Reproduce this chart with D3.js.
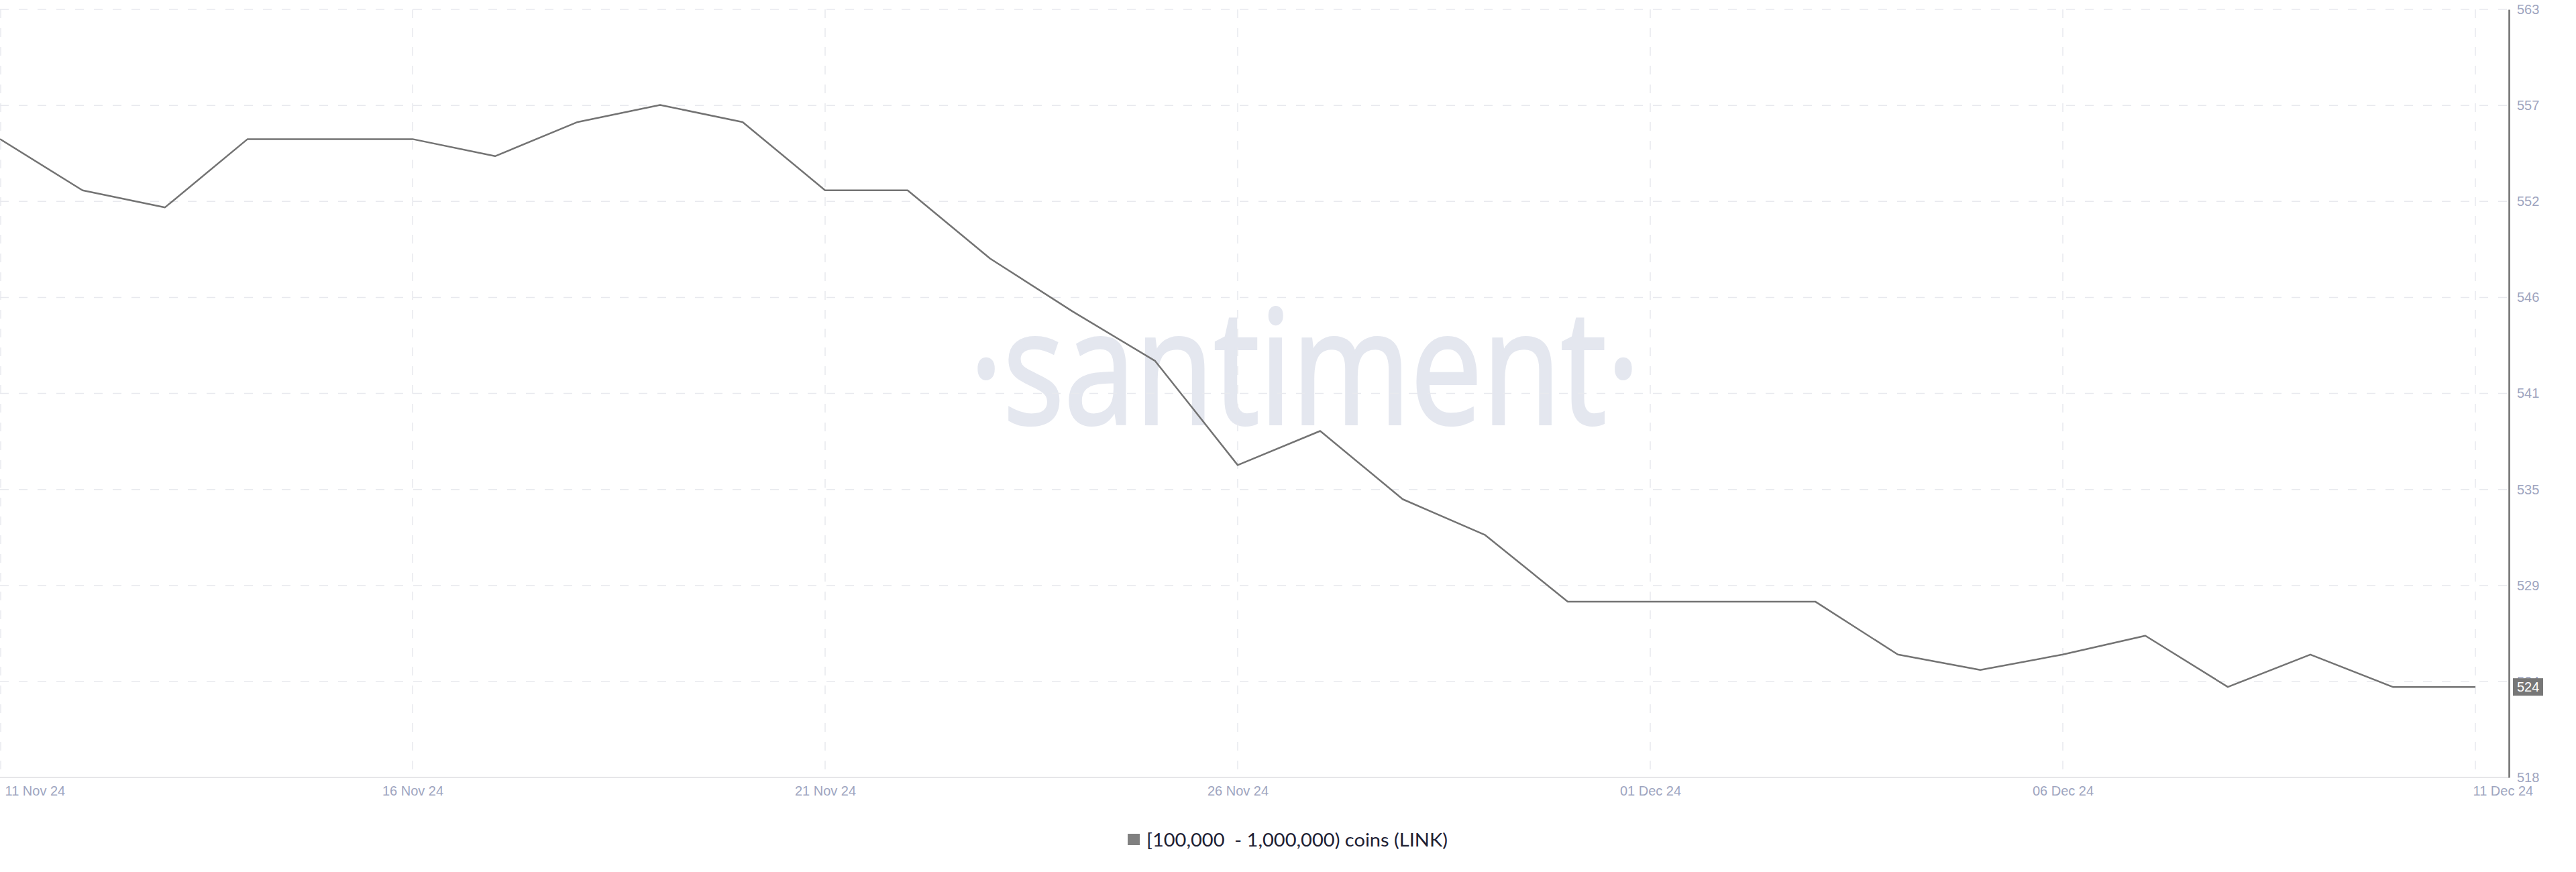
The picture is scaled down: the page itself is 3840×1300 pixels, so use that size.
<!DOCTYPE html>
<html>
<head>
<meta charset="utf-8">
<script src="https://cdn.jsdelivr.net/npm/d3@7"></script>
<style>
  html, body { margin: 0; padding: 0; background: #ffffff; }
  svg { display: block; }
</style>
</head>
<body>
<svg id="chart" width="3840" height="1300"></svg>
<script>
// ---------------- DATA ----------------
const dates = [
  "2024-11-11","2024-11-12","2024-11-13","2024-11-14","2024-11-15","2024-11-16",
  "2024-11-17","2024-11-18","2024-11-19","2024-11-20","2024-11-21","2024-11-22",
  "2024-11-23","2024-11-24","2024-11-25","2024-11-26","2024-11-27","2024-11-28",
  "2024-11-29","2024-11-30","2024-12-01","2024-12-02","2024-12-03","2024-12-04",
  "2024-12-05","2024-12-06","2024-12-07","2024-12-08","2024-12-09","2024-12-10",
  "2024-12-11"
];
const values = [
  555.4, 552.4, 551.4, 555.4, 555.4, 555.4,
  554.4, 556.4, 557.4, 556.4, 552.4, 552.4,
  548.4, 545.3, 542.4, 536.3, 538.3, 534.3,
  532.2, 528.3, 528.3, 528.3, 528.3, 525.2,
  524.3, 525.2, 526.3, 523.3, 525.2, 523.3,
  523.3
];
const seriesName = "[100,000  - 1,000,000) coins (LINK)";
const currentValueLabel = "524";

const xTickDates = ["2024-11-11","2024-11-16","2024-11-21","2024-11-26","2024-12-01","2024-12-06","2024-12-11"];
const xTickLabels = ["11 Nov 24","16 Nov 24","21 Nov 24","26 Nov 24","01 Dec 24","06 Dec 24","11 Dec 24"];

const yDomain = [518, 563];
const yTickLabels = ["518","524","529","535","541","546","552","557","563"];

// ---------------- LAYOUT ----------------
const parse = d3.utcParse("%Y-%m-%d");
const svg = d3.select("#chart");

const plotLeft = 0, dataRight = 3690, axisX = 3740;
const plotTop = 14, plotBottom = 1159;

const x = d3.scaleUtc()
  .domain([parse(dates[0]), parse(dates[dates.length - 1])])
  .range([plotLeft, dataRight]);
const y = d3.scaleLinear().domain(yDomain).range([plotBottom, plotTop]);

const yTickValues = yTickLabels.map((_, i) => yDomain[0] + i * (yDomain[1] - yDomain[0]) / (yTickLabels.length - 1));
const xTickValues = xTickDates.map(parse);

const gridColor = "#e8e9ee";
const labelColor = "#9ea5bf";
const labelFont = "'Liberation Sans', Arial, Helvetica, sans-serif";

// Watermark
svg.append("text")
  .attr("x", 1445)
  .attr("y", 632)
  .attr("textLength", 1000)
  .attr("lengthAdjust", "spacingAndGlyphs")
  .style("font-family", "'Open Sans', sans-serif")
  .style("font-weight", 500)
  .style("font-size", "237px")
  .style("fill", "#e4e7ef")
  .style("stroke", "#e4e7ef")
  .style("stroke-width", 4)
  .text("\u00B7santiment\u00B7");

// Horizontal gridlines
svg.append("g").selectAll("line")
  .data(yTickValues.slice(1))
  .join("line")
  .attr("x1", plotLeft).attr("x2", axisX)
  .attr("y1", d => y(d)).attr("y2", d => y(d))
  .attr("stroke", gridColor)
  .attr("stroke-width", 1.5)
  .attr("stroke-dasharray", "13,15");

// Vertical gridlines
svg.append("g").selectAll("line")
  .data(xTickValues)
  .join("line")
  .attr("x1", d => Math.max(x(d), 1)).attr("x2", d => Math.max(x(d), 1))
  .attr("y1", plotTop).attr("y2", plotBottom)
  .attr("stroke", gridColor)
  .attr("stroke-width", 1.5)
  .attr("stroke-dasharray", "13,15");

// Bottom axis
const xAxis = d3.axisBottom(x)
  .tickValues(xTickValues)
  .tickFormat((d, i) => xTickLabels[i])
  .tickSize(0)
  .tickSizeOuter(0)
  .tickPadding(13);

const gx = svg.append("g")
  .attr("transform", `translate(0,${plotBottom})`)
  .call(xAxis);
gx.select(".domain").remove();
gx.append("line")
  .attr("x1", plotLeft).attr("x2", axisX)
  .attr("y1", 0).attr("y2", 0)
  .attr("stroke", "#e6e6e9").attr("stroke-width", 2);
gx.selectAll("text")
  .style("font-family", labelFont)
  .style("font-size", "20px")
  .style("fill", labelColor)
  .each(function(d, i) {
    const t = d3.select(this);
    if (i === 0) t.attr("text-anchor", "start").attr("x", 7);
    else if (i === xTickValues.length - 1) t.attr("text-anchor", "start").attr("x", -4);
  });

// Right axis
const yAxis = d3.axisRight(y)
  .tickValues(yTickValues)
  .tickFormat((d, i) => yTickLabels[i])
  .tickSize(0)
  .tickSizeOuter(0)
  .tickPadding(12);

const gy = svg.append("g")
  .attr("transform", `translate(${axisX},0)`)
  .call(yAxis);
gy.select(".domain").attr("stroke", "#6f6f6f").attr("stroke-width", 2.5);
gy.selectAll("text")
  .style("font-family", labelFont)
  .style("font-size", "20px")
  .style("fill", labelColor);

// Line
const line = d3.line()
  .x((d, i) => x(parse(dates[i])))
  .y(d => y(d));

svg.append("path")
  .datum(values)
  .attr("d", line)
  .attr("fill", "none")
  .attr("stroke", "#737373")
  .attr("stroke-width", 2.5)
  .attr("stroke-linejoin", "round");

// Current value badge (covers the matching tick label, as in the original)
const lastY = y(values[values.length - 1]);
const badge = svg.append("g").attr("transform", `translate(${axisX + 6},${lastY})`);
badge.append("rect")
  .attr("x", 0).attr("y", -13)
  .attr("width", 45).attr("height", 26)
  .attr("fill", "#777777");
badge.append("text")
  .attr("x", 6).attr("y", 0).attr("dy", "0.35em")
  .style("font-family", labelFont)
  .style("font-size", "20px")
  .style("fill", "#ffffff")
  .text(currentValueLabel);

// Legend
const legend = svg.append("g").attr("transform", "translate(1681,1243)");
legend.append("rect")
  .attr("width", 18).attr("height", 17)
  .attr("fill", "#808080");
legend.append("text")
  .attr("x", 28).attr("y", 19)
  .attr("textLength", 449)
  .attr("lengthAdjust", "spacingAndGlyphs")
  .style("white-space", "pre")
  .style("font-family", "Lato, 'Open Sans', sans-serif")
  .style("font-size", "26px")
  .style("fill", "#1d2033")
  .text(seriesName);
</script>
</body>
</html>
